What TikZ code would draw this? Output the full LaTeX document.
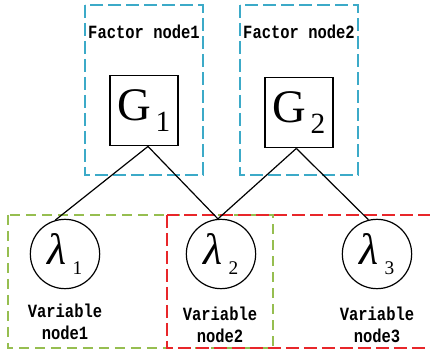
\documentclass[tikz,border=0pt]{standalone}
\usepackage{fontspec}
\usepackage{graphicx}
\newfontfamily\labfont[FakeStretch=0.83]{Liberation Mono}
\newfontfamily\symfont{Liberation Serif}
\definecolor{fblue}{RGB}{60,170,200}
\definecolor{vgreen}{RGB}{150,190,80}
\definecolor{vred}{RGB}{232,38,42}
\newcommand{\gtxt}[1]{{\symfont\fontsize{35}{35}\selectfont G}\hspace{3pt}\raisebox{-8pt}{\symfont\fontsize{22}{22}\selectfont #1}}
\newcommand{\lamtxt}[1]{{\symfont\itshape\fontsize{33}{33}\selectfont λ}\hspace{4.5pt}\raisebox{-7.5pt}{\symfont\fontsize{14.5}{14.5}\selectfont #1}}
\begin{document}
\begin{tikzpicture}[x=0.75pt,y=-0.75pt,
  factor/.style={draw, line width=0.9pt, minimum width=51pt, minimum height=53pt, inner sep=0pt},
  var/.style={draw, circle, line width=0.9pt, minimum size=52pt, inner sep=0pt},
  lab/.style={font=\labfont\bfseries\fontsize{14}{16.5}\selectfont, align=center, inner sep=0pt},
  edge/.style={line width=0.9pt},
  frame/.style={dashed, line width=1pt},
  longdash/.style={dash pattern=on 9.5pt off 4pt},
  shortdash/.style={dash pattern=on 7.5pt off 4.5pt}]
\useasboundingbox (0,0) rectangle (430,353);
\fill[white] (0,0) rectangle (430,353);
% frames
\draw[frame, longdash, draw=fblue] (85,5) rectangle (203,175);
\draw[frame, longdash, draw=fblue] (240,5) rectangle (358,175);
\draw[frame, shortdash, draw=vgreen] (8,215) rectangle (273,348);
\draw[frame, longdash, draw=vred] (167,215) rectangle (445,348);
% labels
\node[lab] (t1) at (144,32) {Factor node1};
\node[lab] (t2) at (299,32) {Factor node2};
\node[lab] (v1) at (65,322) {Variable\\node1};
\node[lab] (v2) at (220,325) {Variable\\node2};
\node[lab] (v3) at (377,325) {Variable\\node3};
% factor nodes
\node[factor] (g1) at (144,110.5) {\gtxt{1}};
\node[factor] (g2) at (299,112.5) {\gtxt{2}};
% variable nodes
\node[var] (l1) at (65,254) {\lamtxt{1}};
\node[var] (l2) at (221,254) {\lamtxt{2}};
\node[var] (l3) at (377,254) {\lamtxt{3}};
% edges
\draw[edge] ([xshift=3pt]g1.south) -- (l1.106);
\draw[edge] ([xshift=3pt]g1.south) -- (l2.95);
\draw[edge] ([xshift=-2pt]g2.south) -- (l2.95);
\draw[edge] ([xshift=-2pt]g2.south) -- (l3.104);
\end{tikzpicture}
\end{document}
